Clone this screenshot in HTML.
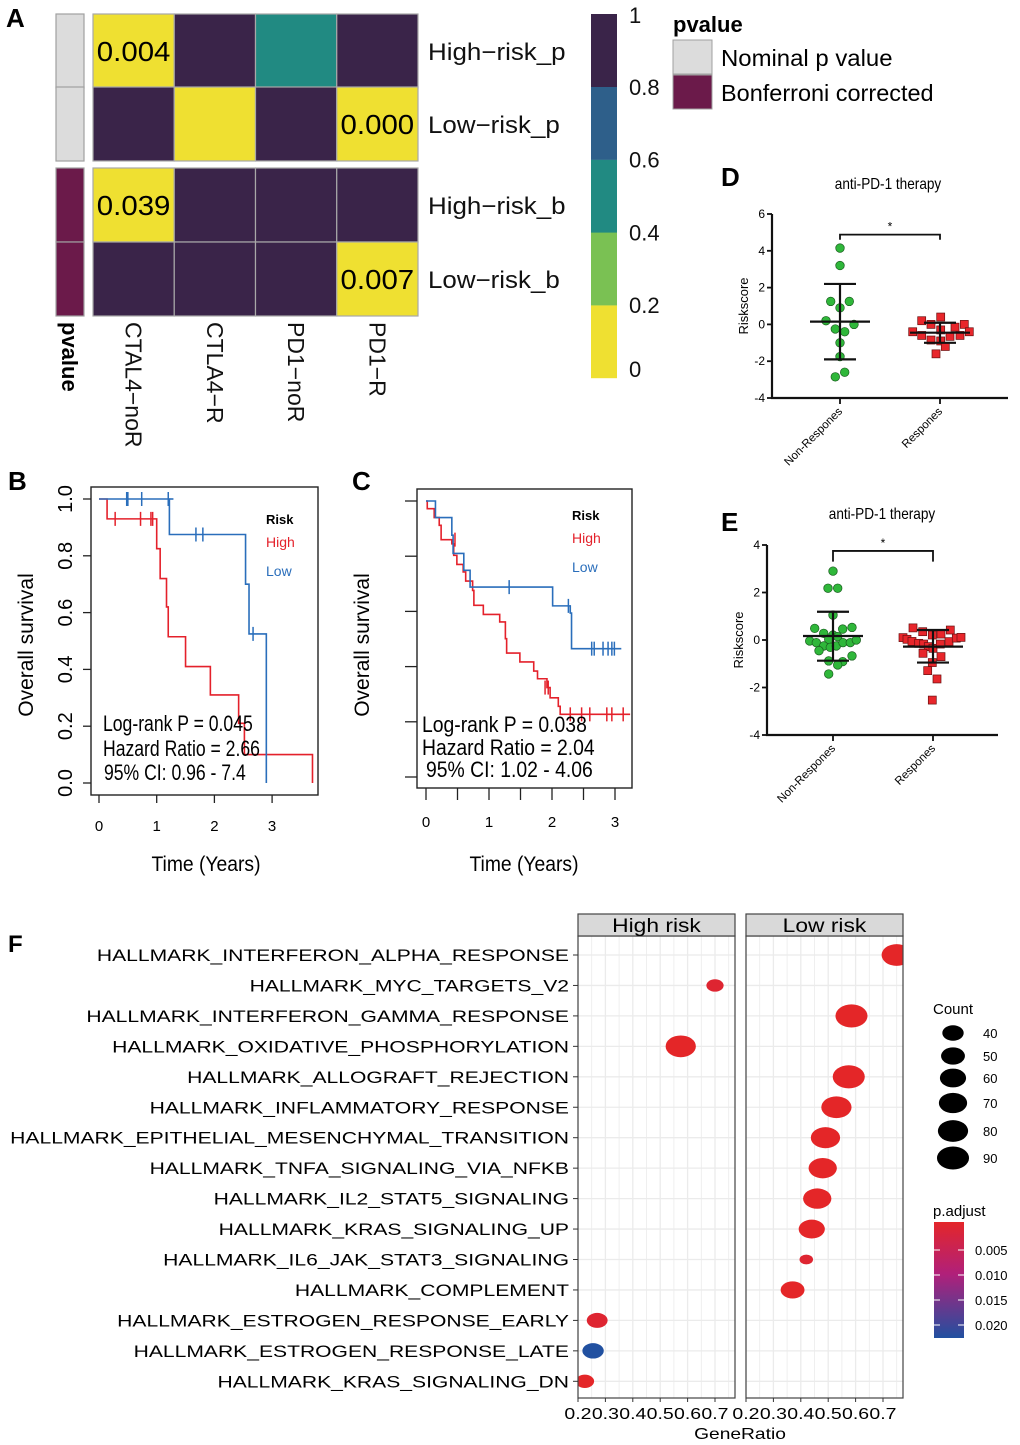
<!DOCTYPE html>
<html><head><meta charset="utf-8">
<style>
html,body{margin:0;padding:0;background:#fff;}
svg{display:block;font-family:"Liberation Sans",Arial,sans-serif;}
</style></head>
<body>
<svg id="fig" width="1020" height="1445" viewBox="0 0 1020 1445" xmlns="http://www.w3.org/2000/svg">
<g id="gA"></g>
<g id="gB"></g>
<g id="gC"></g>
<g id="gD"></g>
<g id="gE"></g>
<g id="gF"></g>
</svg>
<script>
// ---------- Panel A data ----------
const hmRows = ["High\u2212risk_p","Low\u2212risk_p","High\u2212risk_b","Low\u2212risk_b"];
const hmCols = ["CTAL4\u2212noR","CTLA4\u2212R","PD1\u2212noR","PD1\u2212R"];
const hmVals = [[0.004,0.9,0.5,0.9],[0.9,0.0,0.9,0.000],[0.039,0.9,0.9,0.9],[0.9,0.9,0.9,0.007]];
const hmText = [["0.004","","",""],["","","","0.000"],["0.039","","",""],["","","","0.007"]];
const cbTicks = ["0","0.2","0.4","0.6","0.8","1"];
// ---------- Panel B data ----------
const bHighT = [0,0.14,1.0,1.06,1.17,1.2,1.5,1.93,2.42,2.52,3.7];
const bHighS = [1,0.93,0.825,0.72,0.62,0.515,0.41,0.31,0.21,0.10,0];
const bLowT = [0,1.22,2.54,2.6,2.9,2.9];
const bLowS = [1,0.875,0.70,0.525,0.26,0];
const bHighCensT = [0.28,0.72,0.9,0.93];
const bHighCensS = [0.93,0.93,0.93,0.93];
const bLowCensT = [0.48,0.5,0.74,1.2,1.68,1.8,2.67];
const bLowCensS = [1,1,1,1,0.875,0.875,0.525];
const bYTicks = ["0.0","0.2","0.4","0.6","0.8","1.0"];
const bXTicks = ["0","1","2","3"];
// ---------- Panel C data ----------
const cHighT = [0,0.02,0.13,0.21,0.24,0.41,0.44,0.49,0.59,0.63,0.74,0.76,0.91,1.17,1.26,1.28,1.49,1.71,1.77,1.92,1.97,2.10,2.13,3.24];
const cHighS = [1,0.972,0.94,0.912,0.86,0.845,0.803,0.77,0.743,0.71,0.676,0.622,0.589,0.562,0.501,0.449,0.417,0.384,0.356,0.324,0.287,0.256,0.227,0.227];
const cLowT = [0,0.15,0.41,0.43,0.60,0.70,2.01,2.29,2.31,3.1];
const cLowS = [1,0.94,0.876,0.81,0.749,0.688,0.62,0.594,0.465,0.465];
const cHighCensT = [0.46,1.89,1.94,2.29,2.47,2.6,2.87,2.95,3.13];
const cHighCensS = [0.86,0.324,0.324,0.227,0.227,0.227,0.227,0.227,0.227];
const cLowCensT = [1.32,2.26,2.63,2.67,2.81,2.89,2.95,2.99];
const cLowCensS = [0.688,0.62,0.465,0.465,0.465,0.465,0.465,0.465];
const cXTicks = ["0","1","2","3"];
// ---------- Panel D data ----------
const dNonVals = [4.15,3.2,1.25,1.25,0.9,0.2,0,-0.25,-0.4,-1.0,-1.75,-2.85,-2.6];
const dNonJit = [0,0,-9.3,9.3,0,-14,14,-4.7,4.7,0,0,-4.7,4.7];
const dResVals = [0.2,0.4,0,0,-0.15,-0.4,-0.3,-0.4,-0.6,-0.65,-0.6,-0.85,-0.9,-1.2,-1.6];
const dResJit = [-18.3,0.7,-9,24.3,15,-27.3,0.7,29.3,-18.3,10,20,-9,0.7,5.3,-4];
const dNonStats = [0.15,2.2,-1.9];
const dResStats = [-0.45,0.09,-1.0];
const dYTicks = [-4,-2,0,2,4,6];
// ---------- Panel E data ----------
const eNonVals = [2.9,2.18,2.18,1.05,0.49,0.28,0.46,0.53,0.21,0.03,0.14,-0.04,-0.11,-0.25,-0.45,-0.31,-0.25,-0.11,-0.11,0,-0.67,-0.88,-0.91,-1.05,-1.43];
const eNonJit = [0,-5,4.7,0,-18.3,-9.3,9.7,19,0,-4.3,4.7,-23.3,-16.7,-9.3,-14,-2.7,3.3,10,17.3,23.3,19,-4.3,9.7,4.7,-4.3];
const eResVals = [0.51,0.35,0.1,0.03,-0.06,-0.14,-0.17,0.21,0.25,0.42,-0.28,-0.35,-0.17,-0.07,0.08,0.11,-0.56,-0.7,-0.95,-1.29,-1.64,-2.53];
const eResJit = [-20,-10.3,-30,-26,-21,-14.3,-9.3,-0.7,8,17.3,-4.7,0,7.3,16,23.3,28,-10,8,-0.7,-5.3,4,-0.7];
const eNonStats = [0.17,1.19,-0.87];
const eResStats = [-0.28,0.42,-0.95];
const eYTicks = [-4,-2,0,2,4];
// ---------- Panel F data ----------
const fPaths = ["HALLMARK_INTERFERON_ALPHA_RESPONSE","HALLMARK_MYC_TARGETS_V2","HALLMARK_INTERFERON_GAMMA_RESPONSE","HALLMARK_OXIDATIVE_PHOSPHORYLATION","HALLMARK_ALLOGRAFT_REJECTION","HALLMARK_INFLAMMATORY_RESPONSE","HALLMARK_EPITHELIAL_MESENCHYMAL_TRANSITION","HALLMARK_TNFA_SIGNALING_VIA_NFKB","HALLMARK_IL2_STAT5_SIGNALING","HALLMARK_KRAS_SIGNALING_UP","HALLMARK_IL6_JAK_STAT3_SIGNALING","HALLMARK_COMPLEMENT","HALLMARK_ESTROGEN_RESPONSE_EARLY","HALLMARK_ESTROGEN_RESPONSE_LATE","HALLMARK_KRAS_SIGNALING_DN"];
const fHighRatio = [null,0.70,null,0.575,null,null,null,null,null,null,null,null,0.27,0.255,0.225];
const fHighCount = [null,26,null,80,null,null,null,null,null,null,null,null,38,40,30];
const fHighPadj = [null,0.002,null,0.001,null,null,null,null,null,null,null,null,0.002,0.021,0.001];
const fLowRatio = [0.75,null,0.585,null,0.575,0.53,0.49,0.48,0.46,0.44,0.42,0.37,null,null,null];
const fLowCount = [80,null,90,null,90,80,75,70,70,60,16,50,null,null,null];
const fLowPadj = [0.001,null,0.001,null,0.001,0.001,0.001,0.001,0.001,0.001,0.002,0.001,null,null,null];
const fXTicks = [0.2,0.3,0.4,0.5,0.6,0.7];
const fCountLegend = [40,50,60,70,80,90];
const fPadjTicks = ["0.005","0.010","0.015","0.020"];

const NS="http://www.w3.org/2000/svg";
function mk(parent,tag,attrs,txt){const e=document.createElementNS(NS,tag);for(const k in attrs)e.setAttribute(k,attrs[k]);if(txt!==undefined)e.textContent=txt;parent.appendChild(e);return e;}
function stretch(el,f){try{const w=el.getComputedTextLength();if(w>0){el.setAttribute('textLength',(w*f).toFixed(1));el.setAttribute('lengthAdjust','spacingAndGlyphs');}}catch(e){}}

// ================= Panel A =================
(function(){
  const g=document.getElementById('gA');
  const t=mk(g,'text',{x:6,y:27,'font-size':26,'font-weight':'bold'},'A');
  
  
  const x0=93,cw=81.25,rowY=[14,87,168,242],rh=74;
  function col(v){ if(v<0.2)return '#efe031'; if(v<0.4)return '#7ac153'; if(v<0.6)return '#218a82'; if(v<0.8)return '#2e5f8a'; return '#3a2449'; }
  const annCol=['#dcdcdc','#dcdcdc','#6b1a4a','#6b1a4a'];
  for(let r=0;r<4;r++){
    const a=mk(g,'rect',{x:56,y:rowY[r],width:28,height:rh,fill:annCol[r],stroke:'#a0a0a0','stroke-width':1.2});
    
    
    for(let c=0;c<4;c++){
      const rc=mk(g,'rect',{x:x0+c*cw,y:rowY[r],width:cw,height:rh,fill:col(hmVals[r][c]),stroke:'#a8a8a8','stroke-width':1.2});
      
      
      if(hmText[r][c]){
        const tx=mk(g,'text',{x:x0+c*cw+cw/2,y:rowY[r]+rh/2+10,'font-size':28,'text-anchor':'middle',fill:'#000'},hmText[r][c]);
        
        
        stretch(tx,1.05);
      }
    }
    const rl=mk(g,'text',{x:428,y:rowY[r]+rh/2+9,'font-size':24,fill:'#111'},hmRows[r]);
    
    
    stretch(rl,1.08);
  }
  for(let c=0;c<4;c++){
    const cx=x0+c*cw+cw/2;
    const cl=mk(g,'text',{x:cx-8,y:322,'font-size':23,transform:`rotate(90 ${cx-8} 322)`,fill:'#111'},hmCols[c]);
    
    
  }
  const pv=mk(g,'text',{x:62,y:322,'font-size':22,'font-weight':'bold',transform:'rotate(90 62 322)'},'pvalue');
  
  
  const cbCols=['#efe031','#7ac153','#218a82','#2e5f8a','#3a2449'];
  for(let i=0;i<5;i++){
    const s=mk(g,'rect',{x:591,y:378-(i+1)*72.8,width:26,height:73,fill:cbCols[i]});
    
    
  }
  for(let i=0;i<6;i++){
    const tk=mk(g,'text',{x:629,y:i==0?377:i==5?23:378-i*72.8+8,'font-size':22,fill:'#111'},cbTicks[i]);
    
    
  }
  const lt=mk(g,'text',{x:673,y:32,'font-size':22,'font-weight':'bold'},'pvalue');
  
  
  const l1=mk(g,'rect',{x:673,y:40,width:39,height:34,fill:'#dcdcdc',stroke:'#a0a0a0'});
  
  
  const l2=mk(g,'rect',{x:673,y:75,width:39,height:34,fill:'#6b1a4a',stroke:'#a0a0a0'});
  
  
  const t1=mk(g,'text',{x:721,y:66,'font-size':23},'Nominal p value');
  
  
  const t2=mk(g,'text',{x:721,y:101,'font-size':23},'Bonferroni corrected');
  
  
  stretch(t1,1.04); stretch(t2,1.02);
})();

// ================= KM helper =================
function km(g,xs,ys,T,S,color,name){
  let d=`M${xs(T[0])},${ys(S[0])}`;
  for(let i=1;i<T.length;i++){d+=` H${xs(T[i])} V${ys(S[i])}`;}
  const p=mk(g,'path',{d:d,fill:'none',stroke:color,'stroke-width':1.6});
  
  
}
function cens(g,xs,ys,T,S,color){
  for(let i=0;i<T.length;i++){
    const l=mk(g,'line',{x1:xs(T[i]),x2:xs(T[i]),y1:ys(S[i])-7,y2:ys(S[i])+7,stroke:color,'stroke-width':1.5});
    
    
  }
}
function txt(g,x,y,s,str,name,extra){const a=Object.assign({x:x,y:y,'font-size':s},extra||{});const t=mk(g,'text',a,str);return t;}

// ================= Panel B =================
(function(){
  const g=document.getElementById('gB');
  const xs=t=>99+t*57.7, ys=s=>783-s*284;
  txt(g,8,490,26,'B','panel-b-label',{'font-weight':'bold'});
  const box=mk(g,'rect',{x:91,y:487,width:227,height:308,fill:'none',stroke:'#222','stroke-width':1.4});
  
  
  for(let i=0;i<bYTicks.length;i++){
    const y=ys(i*0.2);
    const l=mk(g,'line',{x1:83,x2:91,y1:y,y2:y,stroke:'#222','stroke-width':1.3});
    
    
    txt(g,72,y,20,bYTicks[i],'y-tick-label',{transform:`rotate(-90 72 ${y})`,'text-anchor':'middle'});
  }
  for(let i=0;i<bXTicks.length;i++){
    const x=xs(i);
    const l=mk(g,'line',{x1:x,x2:x,y1:795,y2:803,stroke:'#222','stroke-width':1.3});
    
    
    txt(g,x,831,15,bXTicks[i],'x-tick-label',{'text-anchor':'middle'});
  }
  txt(g,206,871,21,'Time (Years)','x-axis-title',{'text-anchor':'middle',transform:'translate(206 0) scale(0.92 1) translate(-206 0)'});
  txt(g,33,645,21,'Overall survival','y-axis-title',{'text-anchor':'middle',transform:'rotate(-90 33 645)'});
  km(g,xs,ys,bHighT,bHighS,'#e4212b','high-risk-curve');
  km(g,xs,ys,bLowT,bLowS,'#2a6ebb','low-risk-curve');
  mk(g,'line',{x1:xs(1.22),x2:xs(1.29),y1:ys(1),y2:ys(1),stroke:'#2a6ebb','stroke-width':1.6});
  cens(g,xs,ys,bHighCensT,bHighCensS,'#e4212b');
  cens(g,xs,ys,bLowCensT,bLowCensS,'#2a6ebb');
  txt(g,266,524,13,'Risk','legend-title',{'font-weight':'bold'});
  txt(g,266,547,14,'High','legend-entry-high',{fill:'#e4212b'});
  txt(g,266,576,14,'Low','legend-entry-low',{fill:'#2a6ebb'});
  const tr='translate(103 0) scale(0.8 1) translate(-103 0)';
  txt(g,103,731,22,'Log-rank P = 0.045','logrank-text',{transform:tr});
  txt(g,103,756,22,'Hazard Ratio = 2.66','hr-text',{transform:tr});
  txt(g,104,780,22,'95% CI: 0.96 - 7.4','ci-text',{transform:'translate(104 0) scale(0.8 1) translate(-104 0)'});
})();

// ================= Panel C =================
(function(){
  const g=document.getElementById('gC');
  const xs=t=>426+t*63, ys=s=>777-s*276;
  txt(g,352,490,26,'C','panel-c-label',{'font-weight':'bold'});
  const box=mk(g,'rect',{x:417,y:489,width:215,height:299,fill:'none',stroke:'#222','stroke-width':1.4});
  
  
  for(let i=0;i<6;i++){
    const y=ys(i*0.2);
    const l=mk(g,'line',{x1:405,x2:417,y1:y,y2:y,stroke:'#222','stroke-width':1.3});
    
    
  }
  for(let i=0;i<=6;i++){
    const x=xs(i*0.5);
    const l=mk(g,'line',{x1:x,x2:x,y1:788,y2:800,stroke:'#222','stroke-width':1.3});
    
    
  }
  for(let i=0;i<cXTicks.length;i++){
    txt(g,xs(i),827,15,cXTicks[i],'x-tick-label',{'text-anchor':'middle'});
  }
  txt(g,524,871,21,'Time (Years)','x-axis-title',{'text-anchor':'middle',transform:'translate(524 0) scale(0.92 1) translate(-524 0)'});
  txt(g,369,645,21,'Overall survival','y-axis-title',{'text-anchor':'middle',transform:'rotate(-90 369 645)'});
  km(g,xs,ys,cHighT,cHighS,'#e4212b','high-risk-curve');
  km(g,xs,ys,cLowT,cLowS,'#2a6ebb','low-risk-curve');
  cens(g,xs,ys,cHighCensT,cHighCensS,'#e4212b');
  cens(g,xs,ys,cLowCensT,cLowCensS,'#2a6ebb');
  txt(g,572,520,13,'Risk','legend-title',{'font-weight':'bold'});
  txt(g,572,543,14,'High','legend-entry-high',{fill:'#e4212b'});
  txt(g,572,572,14,'Low','legend-entry-low',{fill:'#2a6ebb'});
  const tr='translate(422 0) scale(0.88 1) translate(-422 0)';
  txt(g,422,732,22,'Log-rank P = 0.038','logrank-text',{transform:tr});
  txt(g,422,755,22,'Hazard Ratio = 2.04','hr-text',{transform:tr});
  txt(g,426,777,22,'95% CI: 1.02 - 4.06','ci-text',{transform:'translate(426 0) scale(0.88 1) translate(-426 0)'});
})();

// ================= Scatter helper (D,E) =================
function scatter(g,cfg){
  const {ax,yTop,yBot,vTop,vBot,xEnd,c1,c2,ticks,nonV,nonJ,resV,resJ,nonS,resS,brV,brEnd,letter,ly,titleY,titleX}=cfg;
  const ys=v=>yTop+(vTop-v)*(yBot-yTop)/(vTop-vBot);
  txt(g,721,ly,26,letter,'panel-'+letter.toLowerCase()+'-label',{'font-weight':'bold'});
  txt(g,titleX,titleY,16,'anti-PD-1 therapy','chart-title',{'text-anchor':'middle',transform:`translate(${titleX} 0) scale(0.85 1) translate(${-titleX} 0)`});
  const axl=mk(g,'path',{d:`M${ax},${yTop} V${yBot} H${xEnd}`,fill:'none',stroke:'#111','stroke-width':2.2});
  
  
  for(const v of ticks){
    const y=ys(v);
    mk(g,'line',{x1:ax-5,x2:ax,y1:y,y2:y,stroke:'#111','stroke-width':1.8});
    txt(g,ax-7,y+4,12,String(v),'y-tick-label',{'text-anchor':'end'});
  }
  for(const cx of [c1,c2]) mk(g,'line',{x1:cx,x2:cx,y1:yBot,y2:yBot+6,stroke:'#111','stroke-width':1.8});
  const ry=(yTop+yBot)/2;
  txt(g,ax-24,ry,13,'Riskscore','y-axis-title',{'text-anchor':'middle',transform:`rotate(-90 ${ax-24} ${ry})`});
  txt(g,c1+3,yBot+14,11.5,'Non-Respones','x-tick-label',{'text-anchor':'end',transform:`rotate(-45 ${c1+3} ${yBot+14})`});
  txt(g,c2+3,yBot+14,11.5,'Respones','x-tick-label',{'text-anchor':'end',transform:`rotate(-45 ${c2+3} ${yBot+14})`});
  function bars(cx,s){
    mk(g,'line',{x1:cx-30,x2:cx+30,y1:ys(s[0]),y2:ys(s[0]),stroke:'#111','stroke-width':2.2});
    mk(g,'line',{x1:cx-16,x2:cx+16,y1:ys(s[1]),y2:ys(s[1]),stroke:'#111','stroke-width':2.2});
    mk(g,'line',{x1:cx-16,x2:cx+16,y1:ys(s[2]),y2:ys(s[2]),stroke:'#111','stroke-width':2.2});
    mk(g,'line',{x1:cx,x2:cx,y1:ys(s[1]),y2:ys(s[2]),stroke:'#111','stroke-width':2.2});
  }
  for(let i=0;i<nonV.length;i++){
    const c=mk(g,'circle',{cx:c1+nonJ[i],cy:ys(nonV[i]),r:4.3,fill:'#2fb73a',stroke:'#1a5e1f','stroke-width':0.7});
    
    
  }
  for(let i=0;i<resV.length;i++){
    const c=mk(g,'rect',{x:c2+resJ[i]-4,y:ys(resV[i])-4,width:8,height:8,fill:'#e8262b',stroke:'#6a1010','stroke-width':0.7});
    
    
  }
  bars(c1,nonS); bars(c2,resS);
  const b=mk(g,'path',{d:`M${c1},${ys(brEnd)} V${ys(brV)} H${c2} V${ys(brEnd)}`,fill:'none',stroke:'#111','stroke-width':1.8});
  
  
  txt(g,(c1+c2)/2,ys(brV)-4,12,'*','significance-star',{'text-anchor':'middle'});
}
scatter(document.getElementById('gD'),{ax:772,yTop:214,yBot:398,vTop:6,vBot:-4,xEnd:1008,c1:840,c2:940,ticks:dYTicks,nonV:dNonVals,nonJ:dNonJit,resV:dResVals,resJ:dResJit,nonS:dNonStats,resS:dResStats,brV:4.88,brEnd:4.6,letter:'D',ly:186,titleY:189,titleX:888});
scatter(document.getElementById('gE'),{ax:767,yTop:545,yBot:735,vTop:4,vBot:-4,xEnd:998,c1:833,c2:933,ticks:eYTicks,nonV:eNonVals,nonJ:eNonJit,resV:eResVals,resJ:eResJit,nonS:eNonStats,resS:eResStats,brV:3.75,brEnd:3.3,letter:'E',ly:531,titleY:519,titleX:882});

// ================= Panel F =================
(function(){
  const g=document.getElementById('gF');
  txt(g,8,952,24,'F','panel-f-label',{'font-weight':'bold'});
  const rowY=i=>955+i*30.45;
  const pTop=936,pBot=1398;
  const panels=[{x0:578,lab:'High risk',R:fHighRatio,C:fHighCount,P:fHighPadj},{x0:746,lab:'Low risk',R:fLowRatio,C:fLowCount,P:fLowPadj}];
  const pw=157;
  const rxOf=c=>1.69*Math.sqrt(c);
  function pcol(p){
    const t=Math.max(0,Math.min(1,(p-0.001)/0.02));
    const a=[228,38,40],b=[33,80,160],m=[170,30,130];
    let c;
    if(t<0.5){const u=t*2;c=a.map((v,i)=>Math.round(v+(m[i]-v)*u));}else{const u=(t-0.5)*2;c=m.map((v,i)=>Math.round(v+(b[i]-v)*u));}
    return `rgb(${c[0]},${c[1]},${c[2]})`;
  }
  for(const P of panels){
    const xs=v=>P.x0+(v-0.2)*274;
    const bg=mk(g,'rect',{x:P.x0,y:pTop,width:pw,height:pBot-pTop,fill:'#fff'});
    
    
    for(let k=0;k<12;k++){const v=0.2+k*0.05;const x=xs(v);mk(g,'line',{x1:x,x2:x,y1:pTop,y2:pBot,stroke:'#ebebeb','stroke-width':k%2==0?1.3:0.8});}
    for(let i=0;i<fPaths.length;i++){mk(g,'line',{x1:P.x0,x2:P.x0+pw,y1:rowY(i),y2:rowY(i),stroke:'#ebebeb','stroke-width':1.3});}
    const cp='clip'+P.x0;
    const cl=mk(g,'clipPath',{id:cp});mk(cl,'rect',{x:P.x0,y:pTop,width:pw,height:pBot-pTop});
    const dg=mk(g,'g',{'clip-path':`url(#${cp})`});
    for(let i=0;i<fPaths.length;i++){
      if(P.R[i]===null)continue;
      const rx=rxOf(P.C[i]);
      const e=mk(dg,'ellipse',{cx:xs(P.R[i]),cy:rowY(i),rx:rx,ry:rx*0.72,fill:pcol(P.P[i])});
      
      
    }
    const fr=mk(g,'rect',{x:P.x0,y:pTop,width:pw,height:pBot-pTop,fill:'none',stroke:'#444','stroke-width':1.2});
    
    
    const st=mk(g,'rect',{x:P.x0,y:914,width:pw,height:22,fill:'#d9d9d9',stroke:'#444','stroke-width':1.2});
    
    
    const sl=txt(g,P.x0+pw/2,932,19,P.lab,'facet-strip-label',{'text-anchor':'middle'});
    stretch(sl,1.2);
    for(const v of fXTicks){
      const x=xs(v);
      mk(g,'line',{x1:x,x2:x,y1:pBot,y2:pBot+4,stroke:'#333','stroke-width':1});
      const tl=txt(g,x,1419,16,v.toFixed(1),'x-tick-label',{'text-anchor':'middle'});
      stretch(tl,1.22);
    }
  }
  for(let i=0;i<fPaths.length;i++){
    mk(g,'line',{x1:573,x2:578,y1:rowY(i),y2:rowY(i),stroke:'#333','stroke-width':1});
    const pl=txt(g,569,rowY(i)+6,17,fPaths[i],'pathway-label',{'text-anchor':'end'});
    stretch(pl,1.24);
  }
  const gr=txt(g,740,1439,16,'GeneRatio','x-axis-title',{'text-anchor':'middle'});
  stretch(gr,1.2);
  txt(g,933,1014,15,'Count','size-legend-title');
  const ly=[1033,1056,1078,1103,1131,1158];
  for(let i=0;i<fCountLegend.length;i++){
    const rx=rxOf(fCountLegend[i]);
    const e=mk(g,'ellipse',{cx:953,cy:ly[i],rx:rx,ry:rx*0.72,fill:'#000'});
    
    
    txt(g,983,ly[i]+5,13,String(fCountLegend[i]),'size-legend-label');
  }
  txt(g,933,1216,15,'p.adjust','color-legend-title');
  const defs=mk(g,'defs',{});
  const lg=mk(defs,'linearGradient',{id:'padj',x1:0,y1:0,x2:0,y2:1});
  mk(lg,'stop',{offset:'0','stop-color':'#e4262a'});
  mk(lg,'stop',{offset:'0.45','stop-color':'#b0207a'});
  mk(lg,'stop',{offset:'1','stop-color':'#2150a0'});
  const cb=mk(g,'rect',{x:934,y:1222,width:30,height:116,fill:'url(#padj)'});
  
  
  for(let i=0;i<fPadjTicks.length;i++){
    const y=1250+i*25;
    mk(g,'line',{x1:934,x2:940,y1:y,y2:y,stroke:'#fff','stroke-width':1});
    mk(g,'line',{x1:958,x2:964,y1:y,y2:y,stroke:'#fff','stroke-width':1});
    txt(g,975,y+5,13,fPadjTicks[i],'color-legend-label');
  }
})();
</script>
</body></html>
